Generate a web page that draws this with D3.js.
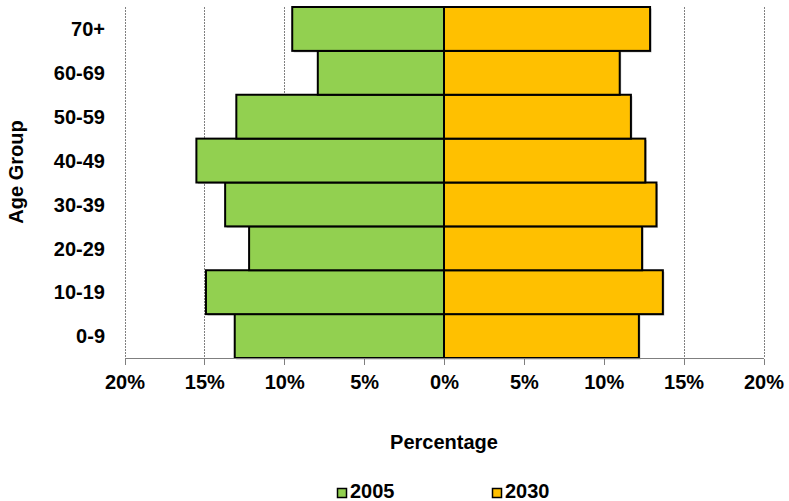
<!DOCTYPE html>
<title>Age pyramid 2005 vs 2030</title>
<meta charset="utf-8">
<style>
body { margin: 0; background: #fff; font-family: "Liberation Sans", Arial, sans-serif; }
text { font-weight: bold; fill: #000; }
.grid line { stroke: #808080; stroke-width: 1; stroke-dasharray: 2,1; }
.axis path, .axis line { stroke: #7f7f7f; stroke-width: 1; shape-rendering: crispEdges; }
</style>
<body>
<script src="https://d3js.org/d3.v7.min.js"></script>
<script>

// data
var ageGroups = ["0-9", "10-19", "20-29", "30-39", "40-49", "50-59", "60-69", "70+"];
var pct2005 = [13.1, 14.9, 12.2, 13.7, 15.5, 13.0, 7.9, 9.5];
var pct2030 = [12.2, 13.7, 12.4, 13.3, 12.6, 11.7, 11.0, 12.9];
var seriesNames = ["2005", "2030"];
var xTicks = [-20, -15, -10, -5, 0, 5, 10, 15, 20];

var W = 789, H = 501;
var plotLeft = 124.5, plotRight = 763.5, plotTop = 7, plotBottom = 358;

var colors = { "2005": "#92D050", "2030": "#FFC000" };

var x = d3.scaleLinear().domain([-20, 20]).range([plotLeft, plotRight]);
var y = d3.scaleBand().domain(ageGroups.slice().reverse()).range([plotTop, plotBottom]).padding(0);

var svg = d3.select("body").append("svg")
    .attr("width", W)
    .attr("height", H);

// vertical dotted gridlines
svg.append("g").attr("class", "grid")
  .selectAll("line")
  .data(xTicks)
  .enter().append("line")
    .attr("x1", function(d) { return Math.round(x(d)) + 0.5; })
    .attr("x2", function(d) { return Math.round(x(d)) + 0.5; })
    .attr("y1", plotTop)
    .attr("y2", plotBottom);

var rows = ageGroups.map(function(g, i) { return { group: g, a: pct2005[i], b: pct2030[i] }; });

// soft shadows behind bars
var shadow = svg.append("g").attr("fill", "#000").attr("opacity", 0.25);
shadow.selectAll(".s1").data(rows).enter().append("rect")
    .attr("x", function(d) { return x(-d.a) + 1.5; })
    .attr("y", function(d) { return y(d.group) + 1.5; })
    .attr("width", function(d) { return x(0) - x(-d.a); })
    .attr("height", y.bandwidth());
shadow.selectAll(".s2").data(rows).enter().append("rect")
    .attr("x", x(0) + 1.5)
    .attr("y", function(d) { return y(d.group) + 1.5; })
    .attr("width", function(d) { return x(d.b) - x(0); })
    .attr("height", y.bandwidth());

// 2005 bars (left)
svg.append("g").selectAll("rect")
  .data(rows)
  .enter().append("rect")
    .attr("x", function(d) { return x(-d.a); })
    .attr("y", function(d) { return y(d.group); })
    .attr("width", function(d) { return x(0) - x(-d.a); })
    .attr("height", y.bandwidth())
    .attr("fill", colors["2005"])
    .attr("stroke", "#000")
    .attr("stroke-width", 2);

// 2030 bars (right)
svg.append("g").selectAll("rect")
  .data(rows)
  .enter().append("rect")
    .attr("x", x(0))
    .attr("y", function(d) { return y(d.group); })
    .attr("width", function(d) { return x(d.b) - x(0); })
    .attr("height", y.bandwidth())
    .attr("fill", colors["2030"])
    .attr("stroke", "#000")
    .attr("stroke-width", 2);

// x axis
var xAxis = d3.axisBottom(x)
    .tickValues(xTicks)
    .tickSize(6)
    .tickPadding(10)
    .tickFormat(function(d) { return Math.abs(d) + "%"; });
var gx = svg.append("g")
    .attr("class", "axis")
    .attr("transform", "translate(0," + (plotBottom + 0.5) + ")")
    .call(xAxis);
gx.select(".domain").attr("d", "M" + plotLeft + ",0H" + plotRight);
gx.selectAll("text")
    .style("font-size", "20px")
    .style("font-family", "'Liberation Sans', Arial, sans-serif")
    .attr("fill", "#000");

// y labels
svg.append("g").selectAll("text")
  .data(ageGroups)
  .enter().append("text")
    .attr("x", 105)
    .attr("y", function(d) { return y(d) + y.bandwidth() / 2; })
    .attr("dy", "0.36em")
    .attr("text-anchor", "end")
    .style("font-size", "20px")
    .text(function(d) { return d; });

// axis titles
svg.append("text")
    .attr("x", 444)
    .attr("y", 449)
    .attr("text-anchor", "middle")
    .style("font-size", "20px")
    .text("Percentage");

svg.append("text")
    .attr("transform", "translate(23,172) rotate(-90)")
    .attr("text-anchor", "middle")
    .style("font-size", "20px")
    .text("Age Group");

// legend
var legendX = [337, 492];
var legend = svg.selectAll(".legend")
  .data(seriesNames)
  .enter().append("g")
    .attr("class", "legend")
    .attr("transform", function(d, i) { return "translate(" + legendX[i] + ",488)"; });
legend.append("rect")
    .attr("x", 0.5)
    .attr("y", 0.5)
    .attr("width", 9)
    .attr("height", 9)
    .attr("fill", function(d) { return colors[d]; })
    .attr("stroke", "#000")
    .attr("stroke-width", 1.5);
legend.append("text")
    .attr("x", 13)
    .attr("y", 10)
    .style("font-size", "20px")
    .text(function(d) { return d; });

</script>
</body>
